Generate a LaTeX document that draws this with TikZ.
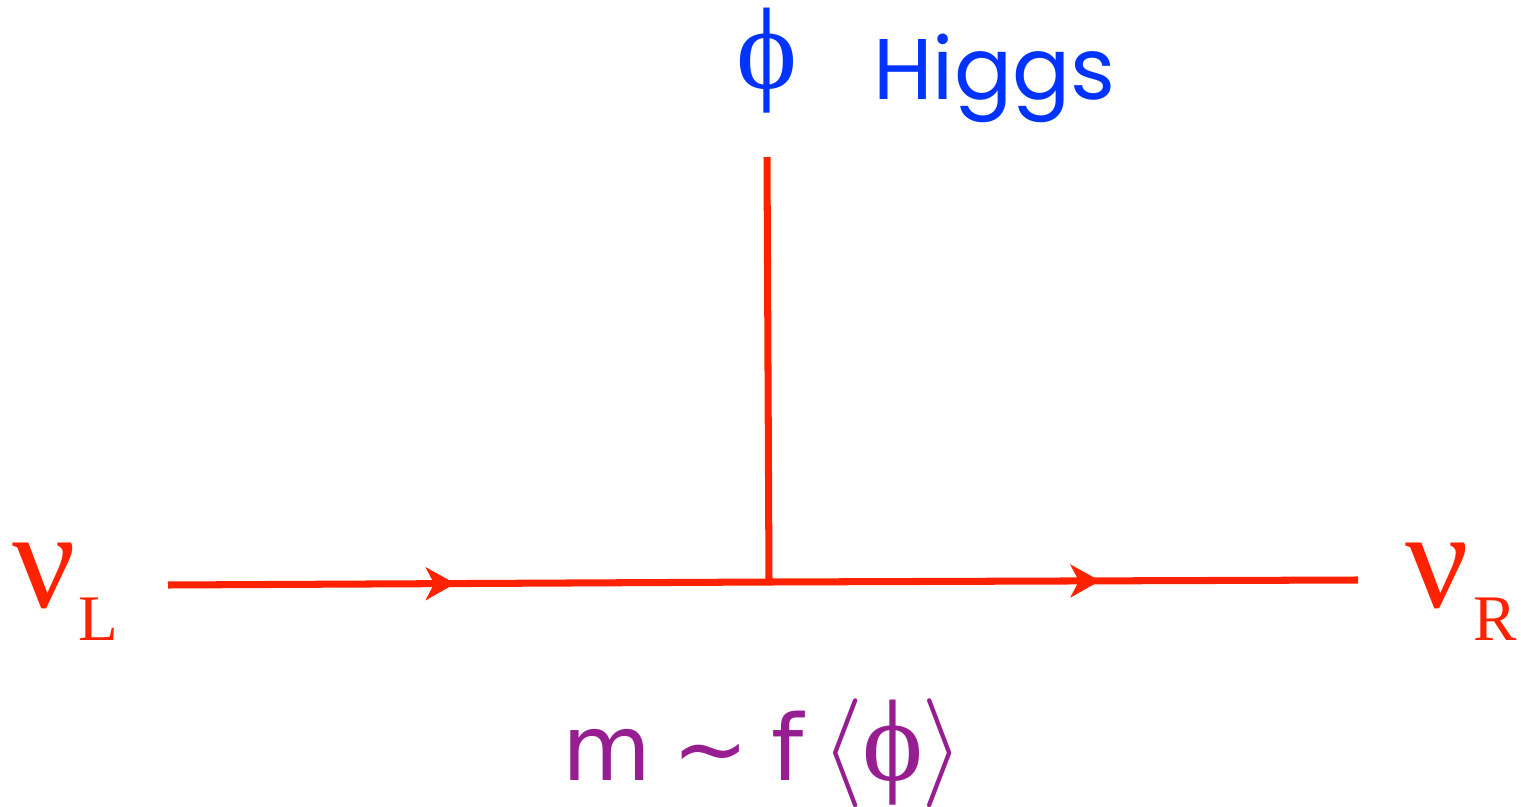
\RequirePackage{fix-cm}
\documentclass[tikz,border=0pt]{standalone}
\usepackage{fontspec}
\setmainfont{Liberation Serif}
\newfontfamily\higgsfont{Poppins}
\newfontfamily\massafont{DejaVu Sans}
\usepackage{tikz}
\usetikzlibrary{arrows.meta, decorations.markings, positioning}
\definecolor{corNeutrino}{RGB}{255, 34, 0}
\definecolor{corHiggs}{RGB}{0, 51, 255}
\definecolor{corMassa}{RGB}{150, 30, 145}

\begin{document}
\begin{tikzpicture}[
    x=0.02cm, y=-0.02cm,
    linha/.style={draw=corNeutrino, line width=4pt},
    fermion/.style={linha, postaction={decorate},
                decoration={markings, mark=at position #1 with
                {\arrow{Stealth[length=17pt, width=19pt, inset=5pt, line width=0.5pt]}}}},
    nu/.style={text=corNeutrino, inner sep=0pt, anchor=base west, font=\fontsize{80}{80}\selectfont},
    sub/.style={text=corNeutrino, inner sep=0pt, anchor=base west, font=\fontsize{37}{37}\selectfont},
    higgs/.style={text=corHiggs, inner sep=0pt, font=\fontsize{66}{66}\selectfont}
]
\useasboundingbox (0,0) rectangle (1521,807);

\coordinate (entra) at (168,585);
\coordinate (vert) at (769,582);
\coordinate (sai) at (1358,580);
\coordinate (topo) at (767,157);

\draw[fermion=0.478] (entra) -- (vert);
\draw[fermion=0.562] (vert) -- (sai);
\draw[linha] (topo) -- (vert);

\node[nu] (nuL) at (12,607) {ν};
\node[sub] (nuLsub) at (78,640) {L};
\node[nu] (nuR) at (1405,607) {ν};
\node[sub] (nuRsub) at (1473,640) {R};

\node[higgs] (phi) at (767,61) {ϕ};
\node[higgs, anchor=base west, font=\higgsfont\fontsize{49}{49}\selectfont] (nome) at (873,100) {Higgs};

\node[text=corMassa, inner sep=0pt, anchor=base west, font=\massafont\fontsize{52}{52}\selectfont] (massa) at (562,780)
    {m\hspace{12pt}\textasciitilde\hspace{13pt}f\hspace{10pt}{\fontsize{62}{62}\selectfont$\langle$}\hspace{-1pt}{\rmfamily\fontsize{66}{66}\selectfont ϕ}\hspace{-1pt}{\fontsize{62}{62}\selectfont$\rangle$}};
\end{tikzpicture}
\end{document}
